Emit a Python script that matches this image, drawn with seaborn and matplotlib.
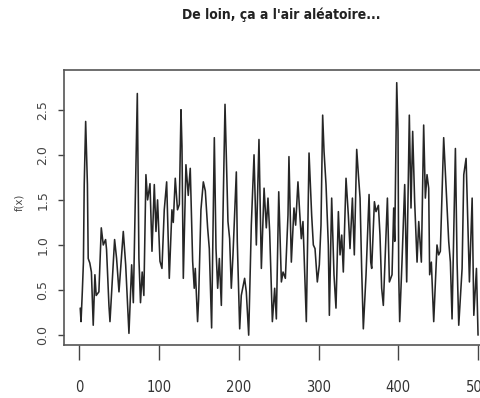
import matplotlib
matplotlib.use("Agg")
import matplotlib.pyplot as plt
import seaborn as sns
import pandas as pd

# valeurs (pics et creux de la courbe)
x_vals = [1, 2, 3.6, 5, 6, 7.8, 9, 10, 11, 13, 15, 17.3, 19.4, 21, 24.4, 27.4, 29.9,
          32.8, 34, 37, 38.3, 44.1, 46.6, 49.6, 55, 58, 62.1, 65.5, 67.6, 70.5, 72.6,
          74.6, 76.6, 78.7, 80.8,
          83.4, 85.5, 88.5, 91, 93.9, 96, 98, 101, 103.5, 106.4, 109.4, 112.7, 116,
          117.7, 120.2, 123, 125.3, 127.4, 128.6, 130.3, 133.6, 136.5, 139, 142, 144,
          145.3, 148.2, 149.5, 152.4, 155.4, 157.9, 160.8, 162.9, 165.8, 169.2, 171.3,
          173.4, 175.5, 178, 182.6,
          186.3, 188.4, 190.5, 192.6, 196.8, 198, 201, 203, 207.2, 209.3, 212.3, 215.6,
          219, 221.9, 225.2, 228.2, 231.6, 234.4, 236.5, 238.6, 242, 244.9, 247, 250,
          253.3, 255.4, 258.3, 261.6, 262.8, 265.8, 269.1, 271.2, 274.1, 276.2, 278.3,
          280.4, 284.6, 288,
          291.3, 293.4, 295.5, 298.4, 300.9, 303, 305.1, 306.8, 309.3, 312.2, 313.5,
          316.4, 319.3, 321.8, 324.8, 326.9, 329, 331, 334.4, 337.3, 339.4, 342.4, 344.8,
          347.8, 349.9, 352, 354, 356.1, 359.5, 363.3, 365.4, 366.6, 370, 372, 375, 377,
          379.1, 381.2, 386.3, 388.8,
          392.1, 394.2, 395.5, 398, 399.6, 400.5, 401.7, 404.6, 408, 410.5, 413.8, 415.9,
          418, 420.5, 423.5, 425.6, 428.9, 431.8, 433.9, 436, 438.1, 439.3, 441.4, 444.4,
          448.5, 450.6, 452.7, 456.9, 461.1, 463.2, 465.3, 467.4, 471.6, 473.7, 475.8,
          480, 482.1, 485, 489.2, 492.6, 494.7, 498, 500]
y_vals = [0.30, 0.15, 0.48, 0.81, 1.67, 2.37, 2.0, 1.67, 0.85, 0.80, 0.70, 0.11, 0.67,
          0.44, 0.48, 1.19, 1.0, 1.06, 0.95, 0.33, 0.15, 1.06, 0.85, 0.48, 1.15, 0.78,
          0.02, 0.78, 0.36, 1.74, 2.68, 0.85, 0.36, 0.70, 0.44,
          1.78, 1.50, 1.68, 0.93, 1.67, 1.15, 1.50, 0.82, 0.74, 1.39, 1.70, 0.63, 1.39,
          1.25, 1.74, 1.39, 1.45, 2.50, 2.10, 0.63, 1.89, 1.55, 1.85, 0.82, 0.52, 0.74,
          0.15, 0.40, 1.39, 1.70, 1.60, 1.19, 0.96, 0.08, 2.19, 0.96, 0.52, 0.85, 0.33,
          2.56,
          1.26, 1.07, 0.52, 0.89, 1.81, 1.04, 0.07, 0.44, 0.63, 0.48, 0.0, 1.22, 2.0,
          1.0, 2.17, 0.74, 1.63, 1.19, 1.52, 1.15, 0.15, 0.52, 0.18, 1.59, 0.59, 0.70,
          0.63, 1.33, 1.98, 0.81, 1.41, 1.22, 1.70, 1.37, 1.07, 1.26, 0.15, 2.02,
          1.33, 1.0, 0.96, 0.59, 0.78, 1.22, 2.44, 2.04, 1.67, 1.0, 0.22, 1.52, 0.67,
          0.30, 1.37, 0.89, 1.11, 0.70, 1.74, 1.33, 0.96, 1.52, 0.89, 2.06, 1.78, 1.52,
          0.74, 0.07, 0.67, 1.56, 0.81, 0.74, 1.48, 1.37, 1.44, 1.11, 0.52, 0.33, 1.52,
          0.59,
          0.67, 1.41, 1.04, 2.80, 2.26, 0.67, 0.15, 0.81, 1.67, 0.59, 2.44, 1.41, 2.26,
          1.48, 0.81, 1.26, 0.81, 2.33, 1.52, 1.78, 1.63, 0.67, 0.81, 0.15, 1.0, 0.89,
          0.93, 2.19, 1.41, 1.04, 0.81, 0.18, 2.07, 0.81, 0.11, 0.74, 1.78, 1.96, 0.59,
          1.52, 0.22, 0.74, 0.0]
x_ticks = [0, 100, 200, 300, 400, 500]
y_ticks = [0.0, 0.5, 1.0, 1.5, 2.0, 2.5]

df = pd.DataFrame({'x': x_vals, 'fx': y_vals})

sns.set_style("ticks")
plt.rcParams['font.family'] = ['DejaVu Sans']
plt.rcParams['font.stretch'] = 'condensed'

fig = plt.figure(figsize=(4.81, 3.98), dpi=100)
ax = fig.add_axes([0.133, 0.133, 0.894, 0.691])

sns.lineplot(data=df, x='x', y='fx', ax=ax, color='#262626', linewidth=1.15,
             estimator=None, sort=False)

ax.set_xlim(-19.4, 520)
ax.set_ylim(-0.11, 2.94)
ax.set_xticks(x_ticks)
ax.set_yticks(y_ticks)
ax.set_xticklabels([str(t) for t in x_ticks], fontsize=10.5, color='#333333')
ax.set_yticklabels([f'{t:.1f}' for t in y_ticks], fontsize=9, rotation=90,
                   va='center', color='#444444', fontstretch='normal')
ax.tick_params(axis='x', direction='out', length=11, width=1.0, pad=14, color='#444444')
ax.tick_params(axis='y', direction='out', length=4.5, width=1.0, pad=6, color='#444444')

for side in ax.spines.values():
    side.set_color('#555555')
    side.set_linewidth(1.2)

ax.set_xlabel('')
ax.set_ylabel('f(x)', fontsize=8, color='#444444')
ax.yaxis.set_label_coords(-0.093, 0.52)

fig.text(0.584, 0.962, "De loin, ça a l'air aléatoire...", ha='center', va='center',
         fontsize=10, fontweight='bold', fontstretch='condensed', color='#222222')

plt.savefig('out.png', dpi=100)
